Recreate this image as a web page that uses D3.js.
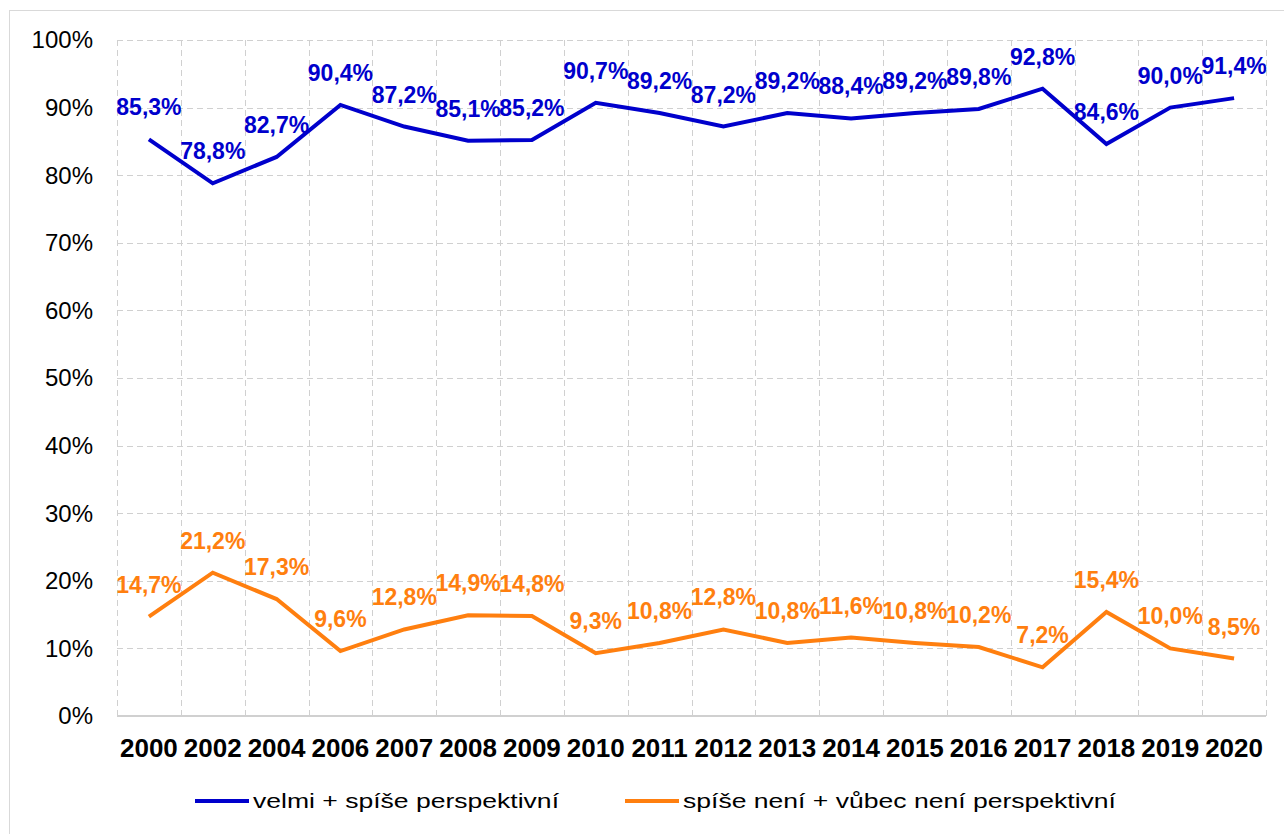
<!DOCTYPE html>
<html>
<head>
<meta charset="utf-8">
<style>
  body { margin: 0; background: #fff; }
  svg text { font-family: "Liberation Sans", Arial, sans-serif; }
  .grid { stroke: #d0d0d0; stroke-width: 1px; stroke-dasharray: 6,4; }
</style>
</head>
<body>
<script src="https://d3js.org/d3.v7.min.js"></script>
<script>
// years on the x axis
var years = ["2000","2002","2004","2006","2007","2008","2009","2010","2011","2012",
             "2013","2014","2015","2016","2017","2018","2019","2020"];
// velmi + spíše perspektivní
var positive = [85.3,78.8,82.7,90.4,87.2,85.1,85.2,90.7,89.2,87.2,89.2,88.4,89.2,89.8,92.8,84.6,90.0,91.4];
// spíše není + vůbec není perspektivní
var negative = [14.7,21.2,17.3,9.6,12.8,14.9,14.8,9.3,10.8,12.8,10.8,11.6,10.8,10.2,7.2,15.4,10.0,8.5];
var yTicks = [0,10,20,30,40,50,60,70,80,90,100];
var seriesNames = ["velmi + spíše perspektivní", "spíše není + vůbec není perspektivní"];
var colors = ["#0000cc", "#ff7f0f"];

var W = 1284, H = 834;
var plotLeft = 117, plotRight = 1266, plotTop = 40, plotBottom = 716;

var svg = d3.select("body").append("svg")
    .attr("width", W)
    .attr("height", H);

// outer frame
svg.append("rect")
    .attr("x", 9.5).attr("y", 10.5)
    .attr("width", 1300).attr("height", 900)
    .style("fill", "none")
    .style("stroke", "#d9d9d9");

var x = d3.scaleBand().domain(years).range([plotLeft, plotRight]);
var y = d3.scaleLinear().domain([0, 100]).range([plotBottom, plotTop]);

// horizontal grid
svg.selectAll("line.hgrid")
  .data(yTicks.filter(function (d) { return d > 0; }))
  .enter().append("line")
    .attr("class", "grid")
    .attr("x1", plotLeft).attr("x2", plotRight)
    .attr("y1", function (d) { return Math.round(y(d)) + 0.5; })
    .attr("y2", function (d) { return Math.round(y(d)) + 0.5; });

// vertical grid at band edges
var edges = years.map(function (d) { return x(d); }).concat([plotRight]);
svg.selectAll("line.vgrid")
  .data(edges)
  .enter().append("line")
    .attr("class", "grid")
    .attr("x1", function (d) { return Math.round(d) + 0.5; })
    .attr("x2", function (d) { return Math.round(d) + 0.5; })
    .attr("y1", plotTop).attr("y2", plotBottom);

// base axis line
svg.append("line")
    .attr("x1", plotLeft).attr("x2", plotRight)
    .attr("y1", plotBottom).attr("y2", plotBottom)
    .style("stroke", "#d0d0d0")
    .style("stroke-width", "2px");

// y tick labels
svg.selectAll("text.ytick")
  .data(yTicks)
  .enter().append("text")
    .attr("x", 93)
    .attr("y", function (d) { return y(d); })
    .attr("dy", "0.35em")
    .style("text-anchor", "end")
    .style("font-size", "24px")
    .style("fill", "#000")
    .text(function (d) { return d + "%"; });

// x tick labels
svg.selectAll("text.xtick")
  .data(years)
  .enter().append("text")
    .attr("x", function (d) { return x(d) + x.bandwidth() / 2; })
    .attr("y", 757)
    .style("text-anchor", "middle")
    .style("font-size", "26px")
    .style("font-weight", "bold")
    .style("fill", "#000")
    .text(function (d) { return d; });

var line = d3.line()
    .x(function (d, i) { return x(years[i]) + x.bandwidth() / 2; })
    .y(function (d) { return y(d); });

[positive, negative].forEach(function (vals, s) {
  svg.append("path")
      .attr("d", line(vals))
      .style("fill", "none")
      .style("stroke", colors[s])
      .style("stroke-width", "4px")
      .style("stroke-linejoin", "miter");

  svg.selectAll("text.lab" + s)
    .data(vals)
    .enter().append("text")
      .attr("x", function (d, i) { return x(years[i]) + x.bandwidth() / 2; })
      .attr("y", function (d) { return y(d) - 24; })
      .style("text-anchor", "middle")
      .style("font-size", "23px")
      .style("font-weight", "bold")
      .style("fill", colors[s])
      .text(function (d) { return d.toFixed(1).replace(".", ",") + "%"; });
});

// legend
var legendX = [195, 625];
var legendLen = [306, 433];
seriesNames.forEach(function (name, s) {
  svg.append("line")
      .attr("x1", legendX[s]).attr("x2", legendX[s] + 54)
      .attr("y1", 801).attr("y2", 801)
      .style("stroke", colors[s])
      .style("stroke-width", "4px");
  svg.append("text")
      .attr("x", legendX[s] + 58)
      .attr("y", 808)
      .attr("textLength", legendLen[s])
      .attr("lengthAdjust", "spacingAndGlyphs")
      .style("font-size", "21px")
      .style("fill", "#000")
      .text(name);
});
</script>
</body>
</html>
